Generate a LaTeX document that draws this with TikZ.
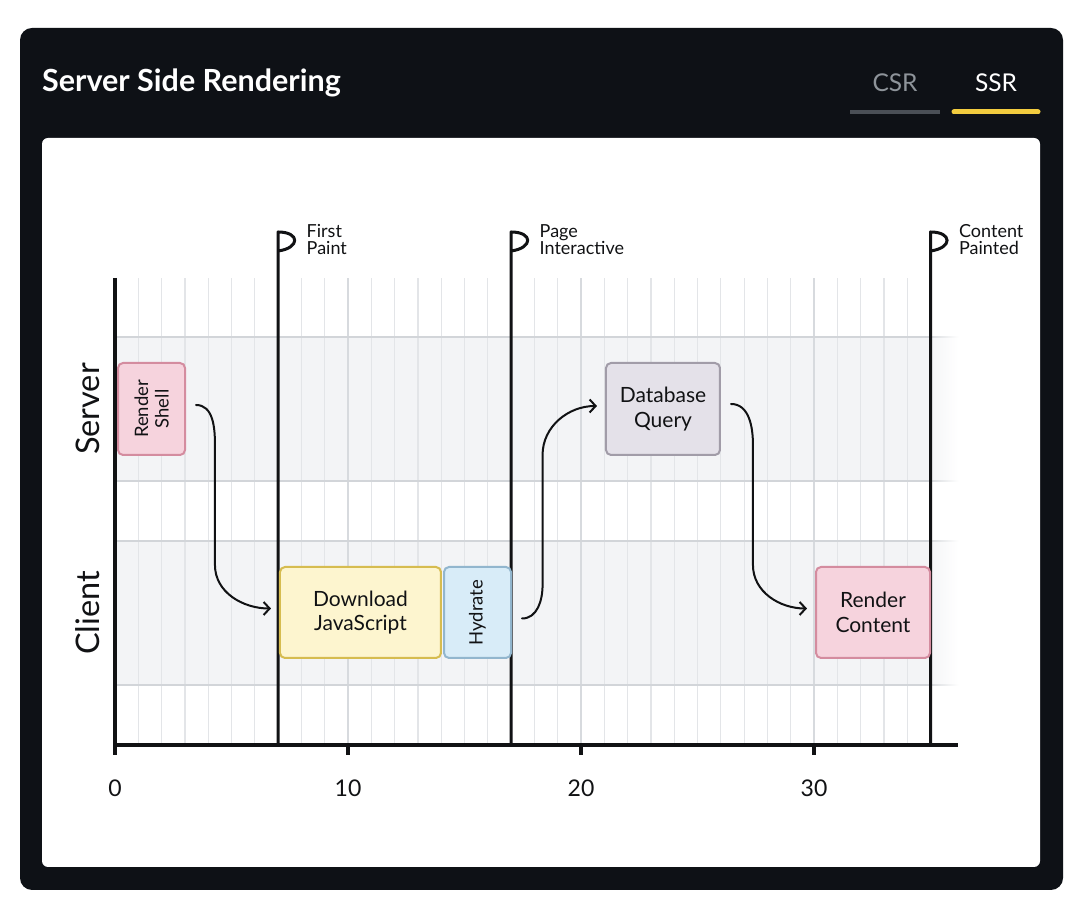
\documentclass[tikz,border=0pt]{standalone}
\usepackage{fontspec}
\setmainfont{Lato}
\usetikzlibrary{arrows.meta,calc}

\definecolor{panel}{HTML}{0E1116}
\definecolor{tabgrey}{HTML}{8E949A}
\definecolor{tabline}{HTML}{4A4F56}
\definecolor{tabyellow}{HTML}{F2CC3F}
\definecolor{lanefill}{HTML}{F3F4F6}
\definecolor{gridminor}{HTML}{E3E5E8}
\definecolor{gridmajor}{HTML}{D7DADE}
\definecolor{laneline}{HTML}{D2D5D9}
\definecolor{ink}{HTML}{111214}
\definecolor{pinkfill}{HTML}{F6D3DD}
\definecolor{pinkline}{HTML}{D48C9F}
\definecolor{yelfill}{HTML}{FDF5CF}
\definecolor{yelline}{HTML}{D6BC50}
\definecolor{bluefill}{HTML}{D8ECF8}
\definecolor{blueline}{HTML}{92B6CE}
\definecolor{lavfill}{HTML}{E4E1E9}
\definecolor{lavline}{HTML}{A19CA8}

\tikzset{
  tabtext/.style={anchor=base, inner sep=0pt, font=\fontsize{24.5}{28}\selectfont},
  gridline/.style={draw=gridminor, line width=1.2pt},
  gridstrong/.style={draw=gridmajor, line width=1.5pt},
  axisline/.style={draw=ink, line width=3.5pt},
  flagline/.style={draw=ink, line width=3pt, line join=round},
  flaglabel/.style={anchor=north west, inner sep=0pt, align=left, text=ink,
    font=\fontsize{18}{17.5}\selectfont},
  lanelabel/.style={rotate=90, inner sep=0pt, text=ink, font=\fontsize{32.5}{36}\selectfont},
  ticklabel/.style={inner sep=0pt, text=ink, font=\fontsize{23}{26}\selectfont},
  task/.style={rectangle, rounded corners=5pt, line width=2pt, align=center,
    text=ink, inner sep=2pt, font=\fontsize{21}{24.5}\selectfont},
  tasksmall/.style={task, font=\fontsize{18.5}{20.5}\selectfont},
  flow/.style={draw=ink, line width=2pt, line cap=round,
    -{Straight Barb[length=6pt,width=13pt]}},
}

\begin{document}
\begin{tikzpicture}[x=1pt,y=1pt]
\useasboundingbox (0,0) rectangle (1080,910);
\fill[white] (0,0) rectangle (1080,910);

% dark card and white chart area
\fill[panel, rounded corners=12pt] (20,20) rectangle (1063,882);
\fill[white, rounded corners=6pt] (42,43) rectangle (1040,772);

% header
\node[anchor=base west, inner sep=0pt, text=white,
      font=\fontsize{30.5}{35}\selectfont\bfseries] (title) at (42,818) {Server Side Rendering};
\node[tabtext, text=tabgrey] (csr) at (895,818) {CSR};
\node[tabtext, text=white] (ssr) at (996,818) {SSR};
\draw[tabline, line width=4pt] (850,798) -- (940,798);
\draw[tabyellow, line width=5pt, line cap=round] (954,798) -- (1038,798);

% timeline chart: x in time units, y in pixels above the axis
\begin{scope}[shift={(115,165)}, x=23.3pt, y=1pt]
  % swim lanes
  \foreach \lo/\hi in {264/408, 60/204} {
    \fill[lanefill] (0,\lo) rectangle (34.8,\hi);
    \shade[left color=lanefill, right color=white] (34.8,\lo) rectangle (36.2,\hi);
  }
  % time grid
  \foreach \i in {1,...,34} { \draw[gridline] (\i,0) -- (\i,467); }
  \foreach \i in {10,20,30} { \draw[gridstrong] (\i,0) -- (\i,467); }
  % lane borders
  \foreach \y in {60,204,264,408} {
    \fill[laneline] (0,\y-0.75) rectangle (34.8,\y+0.75);
    \shade[left color=laneline, right color=white] (34.8,\y-0.75) rectangle (36.2,\y+0.75);
  }

  % lane names
  \node[lanelabel] (server) at (-1.16,336) {Server};
  \node[lanelabel] (client) at (-1.16,132) {Client};

  % axes and ticks
  \draw[axisline] (0,467) -- (0,0) -- (36.2,0);
  \foreach \t in {0,10,20,30} {
    \draw[axisline] (\t,0) -- (\t,-10);
    \node[ticklabel] (tick\t) at (\t,-43) {\t};
  }

  % milestone flags
  \foreach \x/\a/\b [count=\k] in {7/First/Paint, 17/Page/Interactive, 35/Content/Painted} {
    \draw[flagline] (\x,0) -- (\x,513) .. controls (\x+0.95,513) and (\x+0.95,497) .. (\x,494);
    \node[flaglabel] (flag\k) at (\x+1.22,521) {\a\\\b};
  }

  % tasks
  \node[tasksmall, fill=pinkfill, draw=pinkline, rotate=90,
        minimum width=92pt, minimum height=67pt] (shell) at (1.567,336) {Render\\Shell};
  \node[task, fill=yelfill, draw=yelline,
        minimum width=161pt, minimum height=91pt] (dl) at (10.536,132.5) {Download\\JavaScript};
  \node[tasksmall, fill=bluefill, draw=blueline, rotate=90,
        minimum width=91pt, minimum height=67pt] (hyd) at (15.558,132.5) {Hydrate};
  \node[task, fill=lavfill, draw=lavline,
        minimum width=114pt, minimum height=92pt] (db) at (23.519,336) {Database\\Query};
  \node[task, fill=pinkfill, draw=pinkline,
        minimum width=114pt, minimum height=91pt] (rc) at (32.532,132.5) {Render\\Content};

  % hand-offs between server and client
  \draw[flow] ([xshift=10pt,yshift=4pt]shell.south) to[out=0,in=90] (4.29,300)
      -- (4.29,180) to[out=-90,in=180] ([xshift=-8pt,yshift=4pt]dl.west);
  \draw[flow] ([xshift=10pt,yshift=-6pt]hyd.south) to[out=0,in=-90] (18.35,160)
      -- (18.35,290) to[out=90,in=180] ([xshift=-8pt,yshift=3pt]db.west);
  \draw[flow] ([xshift=10pt,yshift=5pt]db.east) to[out=0,in=90] (27.38,300)
      -- (27.38,180) to[out=-90,in=180] ([xshift=-8pt,yshift=4pt]rc.west);
\end{scope}
\end{tikzpicture}
\end{document}
